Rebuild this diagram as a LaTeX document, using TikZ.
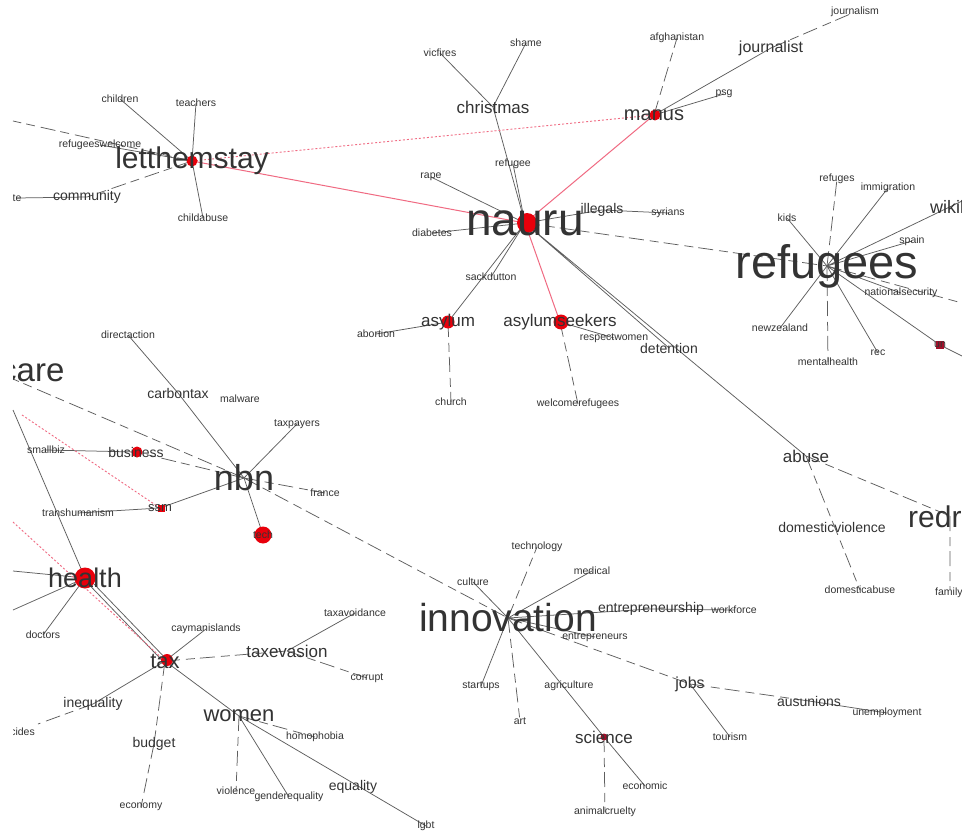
\documentclass[tikz,border=0pt]{standalone}
\usepackage{fontspec}
\setmainfont{Liberation Sans}
\usepackage{xcolor}

\definecolor{wordgray}{HTML}{333333}
\definecolor{linkgray}{HTML}{5E5E5E}
\definecolor{hubred}{HTML}{E8000B}
\definecolor{darkhub}{HTML}{A0102A}
\definecolor{linkred}{HTML}{F06A82}

\pgfdeclarelayer{paper}
\pgfdeclarelayer{edges}
\pgfdeclarelayer{dots}
\pgfsetlayers{paper,edges,dots,main}

\tikzset{
  word/.style={inner sep=0pt, text=wordgray, font=\fontsize{#1}{#1}\selectfont},
  word/.default=10.5,
  link/.style={draw=linkgray, line width=0.75pt},
  faint/.style={draw=linkgray, line width=0.75pt, dash pattern=on 15pt off 6pt on 9pt off 5pt},
  redlink/.style={draw=linkred, line width=1pt},
  reddash/.style={draw=linkred, line width=0.9pt, dash pattern=on 2pt off 2pt},
  hub/.style={circle, fill=hubred, inner sep=0pt, minimum size=#1},
  darkdot/.style={rectangle, fill=darkhub, inner sep=0pt, minimum size=#1}
}

\begin{document}
\begin{tikzpicture}[x=1pt,y=-1pt]
\useasboundingbox (0,0) rectangle (962,832);
\begin{pgfonlayer}{paper}
  \fill[white] (0,0) rectangle (962,832);
\end{pgfonlayer}
\clip (13,-10) rectangle (980,850);

% letthemstay
\node (letthemstay) at (192,161) [word=30] {letthemstay};
\node (children) at (120,99) [word] {children};
\node (teachers) at (196,103) [word] {teachers};
\node (childabuse) at (203,218) [word] {childabuse};
\node (refugeeswelcome) at (100,145) [word] {refugeeswelcome};
\node (community) at (87,197) [word=14] {community};
\node (te) at (17,198) [word] {te};
\coordinate (westA) at (13,121);

% christmas, manus
\node (christmas) at (493,107) [word=17] {christmas};
\node (vicfires) at (440,53) [word] {vicfires};
\node (shame) at (526,43) [word] {shame};
\node (manus) at (654,115) [word=20] {manus};
\node (afghanistan) at (677,38) [word] {afghanistan};
\node (journalist) at (771,48) [word=16] {journalist};
\node (journalism) at (855,12) [word] {journalism};
\node (psg) at (724,94) [word] {psg};

% nauru
\node (nauru) at (525,223) [word=46] {nauru};
\node (refugee) at (513,164) [word] {refugee};
\node (rape) at (431,177) [word] {rape};
\node (diabetes) at (432,233) [word] {diabetes};
\node (illegals) at (602,210) [word=14] {illegals};
\node (syrians) at (668,213) [word] {syrians};
\node (sackdutton) at (491,277) [word] {sackdutton};
\node (asylum) at (448,322) [word=17] {asylum};
\node (abortion) at (376,334) [word] {abortion};
\node (church) at (451,402) [word] {church};
\node (asylumseekers) at (560,322) [word=17] {asylumseekers};
\node (respectwomen) at (614,338) [word] {respectwomen};
\node (welcomerefugees) at (578,404) [word] {welcomerefugees};
\node (detention) at (669,348) [word=14] {detention};
\node (abuse) at (806,456) [word=17] {abuse};
\node (domesticviolence) at (832,527) [word=14] {domesticviolence};
\node (domesticabuse) at (860,590) [word] {domesticabuse};
\node (redr) at (908,517) [word=30, anchor=west] {redr};
\coordinate (redrhub) at (950,516);
\node (family) at (935,593) [word, anchor=west] {family};
\coordinate (familyhub) at (950,589);

% refugees
\node (refugees) at (827,266) [word=47] {refugees};
\node (refuges) at (837,179) [word] {refuges};
\node (immigration) at (888,188) [word] {immigration};
\node (kids) at (787,218) [word] {kids};
\node (wikil) at (930,207) [word=18, anchor=west] {wikil};
\coordinate (wikihub) at (962,201);
\node (spain) at (912,241) [word] {spain};
\node (nationalsecurity) at (901,293) [word] {nationalsecurity};
\coordinate (eastA) at (962,303);
\node (un) at (940,345) [word] {un};
\coordinate (eastB) at (962,356);
\node (rec) at (878,353) [word] {rec};
\node (newzealand) at (780,328) [word] {newzealand};
\node (mentalhealth) at (828,362) [word] {mentalhealth};

% nbn
\node (nbn) at (244,478) [word=36] {nbn};
\node (directaction) at (128,335) [word] {directaction};
\node (carbontax) at (178,393) [word=14] {carbontax};
\node (malware) at (240,399) [word] {malware};
\node (taxpayers) at (297,424) [word] {taxpayers};
\node (france) at (325,493) [word] {france};
\node (business) at (136,452) [word=14] {business};
\node (smallbiz) at (46,450) [word] {smallbiz};
\node (care) at (0,373) [word=33, anchor=west] {care};
\coordinate (carehub) at (13,379);
\node (ssm) at (160,508) [word=13] {ssm};
\node (transhumanism) at (78,513) [word] {transhumanism};
\node (tech) at (263,535) [word] {tech};

% health, tax
\node (health) at (85,578) [word=27] {health};
\node (doctors) at (43,635) [word] {doctors};
\coordinate (westB) at (13,410);
\coordinate (westC) at (13,571);
\coordinate (westD) at (13,610);
\coordinate (westE) at (22,415);
\coordinate (westF) at (13,522);
\node (tax) at (165,661) [word=22] {tax};
\node (caymanislands) at (206,629) [word] {caymanislands};
\node (taxevasion) at (287,651) [word=17] {taxevasion};
\node (taxavoidance) at (355,613) [word] {taxavoidance};
\node (corrupt) at (367,678) [word] {corrupt};
\node (inequality) at (93,704) [word=14] {inequality};
\node (cides) at (35,732) [word, anchor=east] {cides};
\coordinate (cideshub) at (38,724);
\node (budget) at (154,744) [word=14] {budget};
\node (economy) at (141,807) [word] {economy};
\node (women) at (239,716) [word=22] {women};
\node (homophobia) at (315,737) [word] {homophobia};
\node (violence) at (236,791) [word] {violence};
\node (genderequality) at (289,797) [word] {genderequality};
\node (equality) at (353,787) [word=14] {equality};
\node (lgbt) at (426,826) [word] {lgbt};

% innovation
\node (innovation) at (508,618) [word=39] {innovation};
\node (technology) at (537,547) [word] {technology};
\node (medical) at (592,571) [word] {medical};
\node (culture) at (473,582) [word] {culture};
\node (entrepreneurship) at (651,609) [word=14] {entrepreneurship};
\node (workforce) at (734,610) [word] {workforce};
\node (entrepreneurs) at (595,637) [word] {entrepreneurs};
\node (jobs) at (690,684) [word=16] {jobs};
\node (ausunions) at (809,701) [word=14] {ausunions};
\node (unemployment) at (887,713) [word] {unemployment};
\node (tourism) at (730,737) [word] {tourism};
\node (startups) at (481,686) [word] {startups};
\node (agriculture) at (569,686) [word] {agriculture};
\node (art) at (520,721) [word] {art};
\node (science) at (604,737) [word=17] {science};
\node (economic) at (645,786) [word] {economic};
\node (animalcruelty) at (605,812) [word] {animalcruelty};

\begin{pgfonlayer}{edges}
  % solid links
  \draw[link] (letthemstay.center) -- (children.center) (letthemstay.center) -- (teachers.center)
    (letthemstay.center) -- (childabuse.center) (letthemstay.center) -- (refugeeswelcome.center)
    (community.center) -- (te.center);
  \draw[link] (christmas.center) -- (vicfires.center) (christmas.center) -- (shame.center)
    (christmas.center) -- (nauru.center) (manus.center) -- (journalist.center)
    (manus.center) -- (psg.center);
  \draw[link] (nauru.center) -- (refugee.center) (nauru.center) -- (rape.center)
    (nauru.center) -- (diabetes.center) (nauru.center) -- (illegals.center)
    (illegals.center) -- (syrians.center) (nauru.center) -- (sackdutton.center)
    (nauru.center) -- (asylum.center) (asylum.center) -- (abortion.center)
    (asylumseekers.center) -- (respectwomen.center) (nauru.center) -- (detention.center)
    (nauru.center) -- (abuse.center);
  \draw[link] (refugees.center) -- (immigration.center) (refugees.center) -- (kids.center)
    (refugees.center) -- (wikihub) (refugees.center) -- (spain.center)
    (refugees.center) -- (nationalsecurity.center) (refugees.center) -- (un.center)
    (un.center) -- (eastB) (refugees.center) -- (newzealand.center)
    (refugees.center) -- (rec.center);
  \draw[link] (directaction.center) -- (carbontax.center) (carbontax.center) -- (nbn.center)
    (nbn.center) -- (taxpayers.center) (business.center) -- (smallbiz.center)
    (nbn.center) -- (ssm.center) (ssm.center) -- (transhumanism.center)
    (nbn.center) -- (tech.center);
  \draw[link] (health.center) -- (westB) (health.center) -- (westC) (health.center) -- (westD)
    (health.center) -- (doctors.center)
    ([shift={(1.6,-1.6)}]health.center) -- ([shift={(1.6,-1.6)}]tax.center)
    ([shift={(-1.2,1.2)}]health.center) -- ([shift={(-1.2,1.2)}]tax.center);
  \draw[link] (tax.center) -- (caymanislands.center) (taxevasion.center) -- (taxavoidance.center)
    (tax.center) -- (inequality.center) (tax.center) -- (women.center)
    (women.center) -- (genderequality.center) (women.center) -- (lgbt.center);
  \draw[link] (innovation.center) -- (medical.center) (innovation.center) -- (culture.center)
    (innovation.center) -- (entrepreneurship.center) (entrepreneurship.center) -- (workforce.center)
    (innovation.center) -- (entrepreneurs.center) (ausunions.center) -- (unemployment.center)
    (jobs.center) -- (tourism.center) (innovation.center) -- (startups.center)
    (innovation.center) -- (science.center) (science.center) -- (economic.center);
  % broken-looking links
  \draw[faint] (letthemstay.center) -- (westA) (letthemstay.center) -- (community.center)
    (manus.center) -- (afghanistan.center) (journalist.center) -- (journalism.center)
    (nauru.center) -- (refugees.center) (asylum.center) -- (church.center)
    (asylumseekers.center) -- (welcomerefugees.center)
    (abuse.center) -- (domesticabuse.center) (abuse.center) -- (redrhub)
    (redrhub) -- (familyhub);
  \draw[faint] (refugees.center) -- (refuges.center) (refugees.center) -- (mentalhealth.center)
    (refugees.center) -- (eastA) (nbn.center) -- (france.center)
    (nbn.center) -- (business.center) (nbn.center) -- (carehub)
    (nbn.center) -- (innovation.center);
  \draw[faint] (tax.center) -- (taxevasion.center) (taxevasion.center) -- (corrupt.center)
    (inequality.center) -- (cideshub) (tax.center) -- (budget.center)
    (budget.center) -- (economy.center) (women.center) -- (homophobia.center)
    (women.center) -- (violence.center);
  \draw[faint] (innovation.center) -- (technology.center) (innovation.center) -- (jobs.center)
    (jobs.center) -- (ausunions.center) (innovation.center) -- (art.center)
    (science.center) -- (animalcruelty.center);
  % red links
  \draw[redlink] (letthemstay.center) -- (nauru.center) (manus.center) -- (nauru.center)
    (nauru.center) -- (asylumseekers.center);
  \draw[reddash] (letthemstay.center) -- (manus.center) (westE) -- (ssm.center)
    (westF) -- (tax.center);
\end{pgfonlayer}

\begin{pgfonlayer}{dots}
  \node (nauruDot) at (527,223) [hub=20pt] {};
  \node (healthDot) at (health.center) [hub=21pt] {};
  \node (techDot) at (tech.center) [hub=17pt] {};
  \node (seekersDot) at (561,322) [hub=15pt] {};
  \node (asylumDot) at (asylum.center) [hub=13pt] {};
  \node (letthemstayDot) at (letthemstay.center) [hub=11pt] {};
  \node (manusDot) at (655,115) [hub=11pt] {};
  \node (businessDot) at (137,452) [hub=11pt] {};
  \node (taxDot) at (167,660) [hub=12pt] {};
  \node (ssmDot) at (161,508) [darkdot=7pt, fill=hubred] {};
  \node (scienceDot) at (science.center) [hub=7pt, fill=darkhub] {};
  \node (unDot) at (un.center) [darkdot=8pt] {};
\end{pgfonlayer}
\end{tikzpicture}
\end{document}
